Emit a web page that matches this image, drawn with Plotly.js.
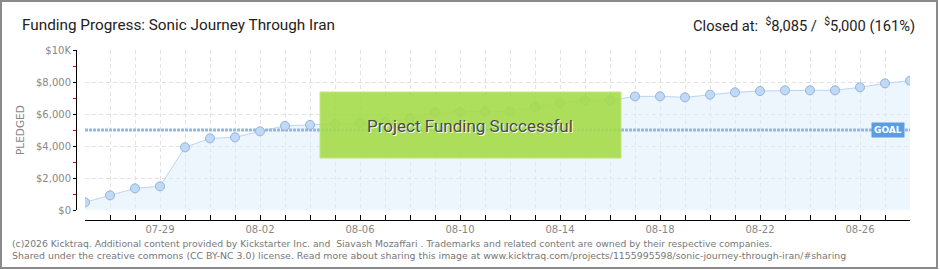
<!DOCTYPE html>
<html>
<head>
<meta charset="utf-8">
<script src="https://cdn.plot.ly/plotly-3.0.1.min.js"></script>
<style>
html,body{margin:0;padding:0;background:#fff;}
#wrap{position:relative;width:940px;height:270px;}
#chart{position:absolute;left:0;top:0;width:940px;height:270px;}
#frame{position:absolute;left:0;top:0;width:934px;height:265px;border:2px solid #8a8a8a;pointer-events:none;}
</style>
</head>
<body>
<div id="wrap"><div id="chart"></div><div id="frame"></div></div>
<script>
// ---- data ----
const dates = ['2014-07-26','2014-07-27','2014-07-28','2014-07-29','2014-07-30','2014-07-31',
  '2014-08-01','2014-08-02','2014-08-03','2014-08-04','2014-08-05','2014-08-06','2014-08-07',
  '2014-08-08','2014-08-09','2014-08-10','2014-08-11','2014-08-12','2014-08-13','2014-08-14',
  '2014-08-15','2014-08-16','2014-08-17','2014-08-18','2014-08-19','2014-08-20','2014-08-21',
  '2014-08-22','2014-08-23','2014-08-24','2014-08-25','2014-08-26','2014-08-27','2014-08-28'];
const pledged = [480, 917, 1354, 1479, 3917, 4479, 4542, 4917, 5260, 5320, 5375, 5417, 5500,
  5729, 6104, 6125, 6167, 6167, 6437, 6687, 6854, 6854, 7100, 7104, 7042, 7208, 7354,
  7437, 7479, 7479, 7479, 7667, 7917, 8085];
const goal = 5000;
const yTickVals = [0, 2000, 4000, 6000, 8000, 10000];
const yTickText = ['$0', '$2,000', '$4,000', '$6,000', '$8,000', '$10K'];
const firstXTick = '2014-07-29';

const DAY = 86400000;
const tickFont = {family: 'DejaVu Sans', size: 10, color: '#888'};

const traces = [
  { x: dates, y: pledged, type: 'scatter', mode: 'lines', fill: 'tozeroy',
    fillcolor: 'rgba(222,236,252,0.55)', line: {color: '#b9d6f3', width: 1},
    hoverinfo: 'skip', showlegend: false },
  { x: [dates[0], dates[dates.length - 1]], y: [goal, goal], type: 'scatter', mode: 'lines',
    line: {color: '#8fb9e8', width: 3, dash: '3px,1px'}, hoverinfo: 'skip', showlegend: false },
  { x: dates, y: pledged, type: 'scatter', mode: 'markers',
    marker: {size: 9, color: '#bfd9f6', line: {color: '#93b4da', width: 1}},
    hoverinfo: 'skip', showlegend: false }
];

const layout = {
  width: 940, height: 270,
  margin: {l: 76, r: 30, t: 50, b: 50},
  paper_bgcolor: '#fff', plot_bgcolor: 'rgba(0,0,0,0)',
  showlegend: false,
  xaxis: {
    type: 'date', domain: [9 / 834, 1], anchor: 'free', position: 0,
    range: [dates[0], dates[dates.length - 1]],
    tick0: firstXTick, dtick: 4 * DAY, tickformat: '%m-%d',
    ticks: 'inside', ticklen: 5, tickcolor: '#000', tickwidth: 1,
    showline: true, linecolor: '#000', linewidth: 1,
    showgrid: true, gridcolor: '#e2e2e2', griddash: '4px,3px', gridwidth: 1,
    zeroline: false, tickfont: tickFont, fixedrange: true,
    minor: {dtick: DAY, tick0: firstXTick, ticks: 'inside', ticklen: 5, tickcolor: '#000',
      showgrid: true, gridcolor: '#e2e2e2', griddash: '4px,3px', gridwidth: 1}
  },
  yaxis: {
    domain: [10 / 170, 1], anchor: 'free', position: 0,
    range: [0, 10000], tickvals: yTickVals, ticktext: yTickText,
    ticks: 'outside', ticklen: 3, tickcolor: '#000', tickwidth: 1,
    showline: true, linecolor: '#000', linewidth: 1,
    showgrid: true, gridcolor: '#e2e2e2', griddash: '4px,3px', gridwidth: 1,
    zeroline: false, tickfont: tickFont, fixedrange: true,
    minor: {dtick: 1000, tick0: 0, ticks: 'outside', ticklen: 3, tickcolor: '#e00000',
      showgrid: false}
  },
  shapes: [
    { type: 'rect', xref: 'paper', yref: 'paper', x0: 244 / 834, x1: 545 / 834,
      y0: 62 / 170, y1: 128 / 170, fillcolor: '#a6dc4b', opacity: 0.9,
      line: {color: '#bde46f', width: 1}, layer: 'above' }
  ],
  annotations: [
    { xref: 'paper', yref: 'paper', x: -56 / 834, y: 195 / 170, xanchor: 'left', yanchor: 'middle',
      text: 'Funding Progress: Sonic Journey Through Iran', showarrow: false,
      font: {family: 'Roboto', size: 15.3, color: '#222'} },
    { xref: 'paper', yref: 'paper', x: 841 / 834, y: 195 / 170, xanchor: 'right', yanchor: 'middle',
      text: 'Closed at:  <sup>$</sup>8,085 /  <sup>$</sup>5,000 (161%)', showarrow: false,
      font: {family: 'Roboto', size: 14.7, color: '#222'} },
    { xref: 'paper', yref: 'paper', x: -56 / 834, y: 90 / 170, xanchor: 'center', yanchor: 'middle',
      text: 'PLEDGED', textangle: -90, showarrow: false,
      font: {family: 'DejaVu Sans', size: 10.5, color: '#888'} },
    { xref: 'paper', yref: 'paper', x: 394 / 834, y: 94 / 170, xanchor: 'center', yanchor: 'middle',
      text: 'Project Funding Successful', showarrow: false,
      font: {family: 'Roboto', size: 17, color: '#4a4a4a', shadow: '1px 1px 0px #fff'} },
    { xref: 'paper', yref: 'paper', x: 811.5 / 834, y: 90 / 170, xanchor: 'center', yanchor: 'middle',
      text: '<b>GOAL</b>', showarrow: false, bgcolor: '#5b9de0', borderpad: 2,
      font: {family: 'DejaVu Sans', size: 9, color: '#fff'} },
    { xref: 'paper', yref: 'paper', x: -66 / 834, y: -23.5 / 170, xanchor: 'left', yanchor: 'middle',
      text: '(c)2026 Kicktraq. Additional content provided by Kickstarter Inc. and  Siavash Mozaffari . Trademarks and related content are owned by their respective companies.',
      showarrow: false, font: {family: 'DejaVu Sans', size: 9.25, color: '#777'} },
    { xref: 'paper', yref: 'paper', x: -66 / 834, y: -35.5 / 170, xanchor: 'left', yanchor: 'middle',
      text: 'Shared under the creative commons (CC BY-NC 3.0) license. Read more about sharing this image at www.kicktraq.com/projects/1155995598/sonic-journey-through-iran/#sharing',
      showarrow: false, font: {family: 'DejaVu Sans', size: 9.4, color: '#777'} }
  ]
};

Plotly.newPlot('chart', traces, layout, {displayModeBar: false, staticPlot: true});
</script>
</body>
</html>
